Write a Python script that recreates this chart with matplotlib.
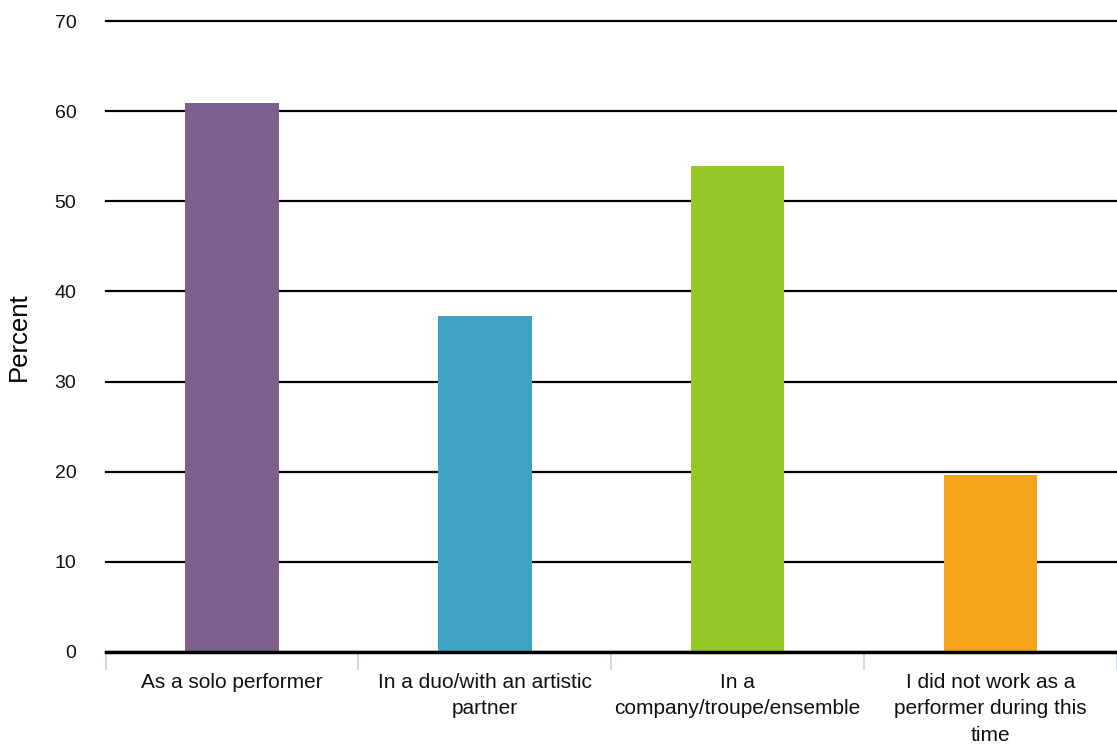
import matplotlib
matplotlib.use("Agg")
import matplotlib.pyplot as plt
import numpy as np

categories = ["As a solo performer",
              "In a duo/with an artistic\npartner",
              "In a\ncompany/troupe/ensemble",
              "I did not work as a\nperformer during this\ntime"]
values = [60.9, 37.3, 53.9, 19.6]
colors = ["#7b618e", "#41a3c3", "#96c928", "#f4a41a"]
yticks = [0, 10, 20, 30, 40, 50, 60, 70]

plt.rcParams['font.family'] = ['Liberation Sans', 'DejaVu Sans']

fig = plt.figure(figsize=(11.17, 7.44), dpi=100)
ax = fig.add_axes([0.0945, 0.1237, 0.9055, 0.848])

x = np.arange(len(categories))
ax.bar(x, values, width=0.37, color=colors, zorder=3)

ax.set_ylim(0, 70)
ax.set_xlim(-0.5, 3.487)
ax.set_yticks(yticks)
ax.yaxis.grid(True, color='black', linewidth=1.6, zorder=1)
for gl in ax.get_ygridlines():
    gl.set_clip_on(False)
ax.set_axisbelow(True)
ax.tick_params(axis='y', length=0, pad=21, labelsize=14, labelcolor='#111111')

for s in ['top', 'right', 'left']:
    ax.spines[s].set_visible(False)
ax.spines['bottom'].set_linewidth(2.5)
ax.spines['bottom'].set_color('black')
ax.spines['bottom'].set_zorder(4)

ax.set_xticks(np.arange(-0.5, len(categories), 1.0))
ax.set_xticklabels([])
ax.tick_params(axis='x', which='major', length=13, width=1.2, color='#c6d4ea')
ax.set_xticks(x, minor=True)
ax.set_xticklabels(categories, minor=True, fontsize=15, linespacing=1.5, va='top', color='#111111')
ax.tick_params(axis='x', which='minor', length=0, pad=15)

ax.set_ylabel("Percent", fontsize=18.5, labelpad=10)
ax.yaxis.set_label_coords(-0.074, 0.5)

fig.savefig("out.png", dpi=100)
